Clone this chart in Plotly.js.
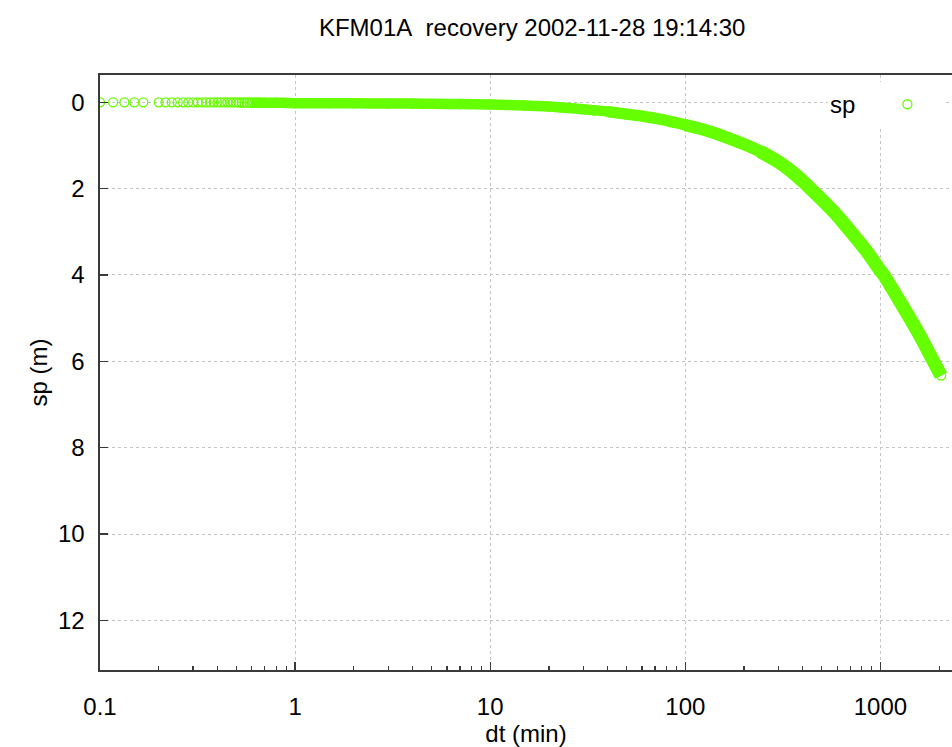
<!DOCTYPE html>
<html>
<head>
<meta charset="utf-8">
<script src="https://cdn.plot.ly/plotly-3.0.1.min.js"></script>
<style>html,body{margin:0;padding:0;background:#fff;}#chart{width:952px;height:747px;}</style>
</head>
<body>
<div id="chart"></div>
<script>
// elapsed time since start of recovery (min)
const dt = [
  0.1, 0.1167, 0.1333, 0.15, 0.1667,
  0.2, 0.2167, 0.2333, 0.25, 0.2667, 0.2833, 0.3, 0.3167, 0.3333, 0.35,
  0.3667, 0.3833, 0.4, 0.4167, 0.4333, 0.45, 0.4667, 0.4833, 0.5, 0.5167,
  0.5333, 0.55, 0.5667, 0.5833, 0.6, 0.6167, 0.6333, 0.65, 0.6667,
  0.7, 0.8, 0.9, 1, 1.5, 2, 3, 4, 5, 7, 10, 15, 20, 23, 30, 34, 40, 50, 60,
  74, 90, 100, 120, 134, 150, 180, 200, 242, 300, 350, 400, 431, 500, 550,
  600, 700, 850, 1000, 1040, 1300, 1600, 1845, 2046
];
// sp (m)
const sp = [
  0, 0, 0, 0, 0,
  0, 0, 0, 0, 0, 0, 0, 0, 0, 0,
  0, 0, 0, 0, 0, 0, 0, 0, 0, 0.005,
  0.005, 0.005, 0.005, 0.005, 0.01, 0.01, 0.01, 0.01, 0.01,
  0.01, 0.01, 0.015, 0.02, 0.02, 0.025, 0.03, 0.03, 0.035, 0.04, 0.05, 0.075, 0.10, 0.12, 0.16, 0.185, 0.215, 0.275, 0.32,
  0.39, 0.475, 0.525, 0.615, 0.68, 0.755, 0.89, 0.97, 1.14, 1.38, 1.60, 1.83, 1.97, 2.25, 2.44,
  2.62, 2.98, 3.45, 3.90, 4.00, 4.72, 5.42, 5.95, 6.33
];
const seriesName = 'sp';
const xTickVals = [0.1, 1, 10, 100, 1000];
const xTickText = ['0.1', '1', '10', '100', '1000'];
const yTickVals = [0, 2, 4, 6, 8, 10, 12];
const titleText = 'KFM01A\u00a0 recovery 2002-11-28 19:14:30';
const xTitle = 'dt (min)';
const yTitle = 'sp (m)';

const GREEN = '#66ff00';
const FONT = 'Liberation Sans, Arial, sans-serif';

// minor tick positions on the log axis (2..9 in every decade)
const minorVals = [];
for (let e = -1; e <= 3; e++) for (let m = 2; m <= 9; m++) minorVals.push(m * Math.pow(10, e));

// dense overlapping markers form a solid band; drawn as thick lines from the same data
function band(lo, w) {
  const xs = [], ys = [];
  dt.forEach((v, i) => { if (v >= lo) { xs.push(v); ys.push(sp[i]); } });
  return {x: xs, y: ys, type: 'scatter', mode: 'lines', showlegend: false, hoverinfo: 'skip',
    line: {color: GREEN, width: w, shape: 'spline', smoothing: 0.6}};
}

const traces = [
  band(0.6, 10.5),
  band(40, 11.3),
  band(100, 12.3),
  band(242, 13.5),
  {
    x: dt, y: sp, type: 'scatter', mode: 'markers', name: '\u00a0\u00a0',
    marker: {symbol: 'circle-open', size: 9, color: GREEN, line: {width: 1.3, color: GREEN}}
  }
];

const axisCommon = {
  showline: true, linecolor: '#3a3a3a', linewidth: 1.6,
  ticks: 'inside', ticklen: 8, tickwidth: 1.3, tickcolor: '#3a3a3a',
  showgrid: true, gridcolor: '#c4c4c4', griddash: 'dot', gridwidth: 1,
  zeroline: false,
  tickfont: {family: FONT, size: 24, color: '#000'}
};

const layout = {
  width: 952, height: 747,
  paper_bgcolor: '#fff', plot_bgcolor: '#fff',
  margin: {l: 100, r: 0, t: 75, b: 77},
  font: {family: FONT, color: '#000'},
  title: {text: titleText, font: {family: FONT, size: 24, color: '#000'},
    xref: 'container', x: 0.559, xanchor: 'center', yref: 'container', y: 0.9625, yanchor: 'middle'},
  xaxis: Object.assign({}, axisCommon, {
    type: 'log', range: [-1, 3.367], mirror: true,
    tickmode: 'array', tickvals: xTickVals, ticktext: xTickText,
    ticklabelstandoff: 15,
    minor: {tickmode: 'array', tickvals: minorVals, ticks: 'inside', ticklen: 4, tickwidth: 1.2, tickcolor: '#3a3a3a', showgrid: false},
    title: {text: xTitle, font: {family: FONT, size: 24, color: '#000'}, standoff: 4}
  }),
  yaxis: Object.assign({}, axisCommon, {
    range: [13.15, -0.632], mirror: false,
    tickmode: 'array', tickvals: yTickVals,
    ticklabelstandoff: 9,
    title: {text: yTitle, font: {family: FONT, size: 24, color: '#000'}, standoff: 3}
  }),
  showlegend: true,
  legend: {
    x: 0.8545, xanchor: 'left', y: 0.988, yanchor: 'top',
    bgcolor: '#fff', borderwidth: 0,
    font: {family: FONT, size: 24, color: '#000'},
    title: {text: seriesName, side: 'left', font: {family: FONT, size: 24, color: '#000'}},
    itemwidth: 30, indentation: 24
  }
};

Plotly.newPlot('chart', traces, layout, {displayModeBar: false, staticPlot: true});
</script>
</body>
</html>
